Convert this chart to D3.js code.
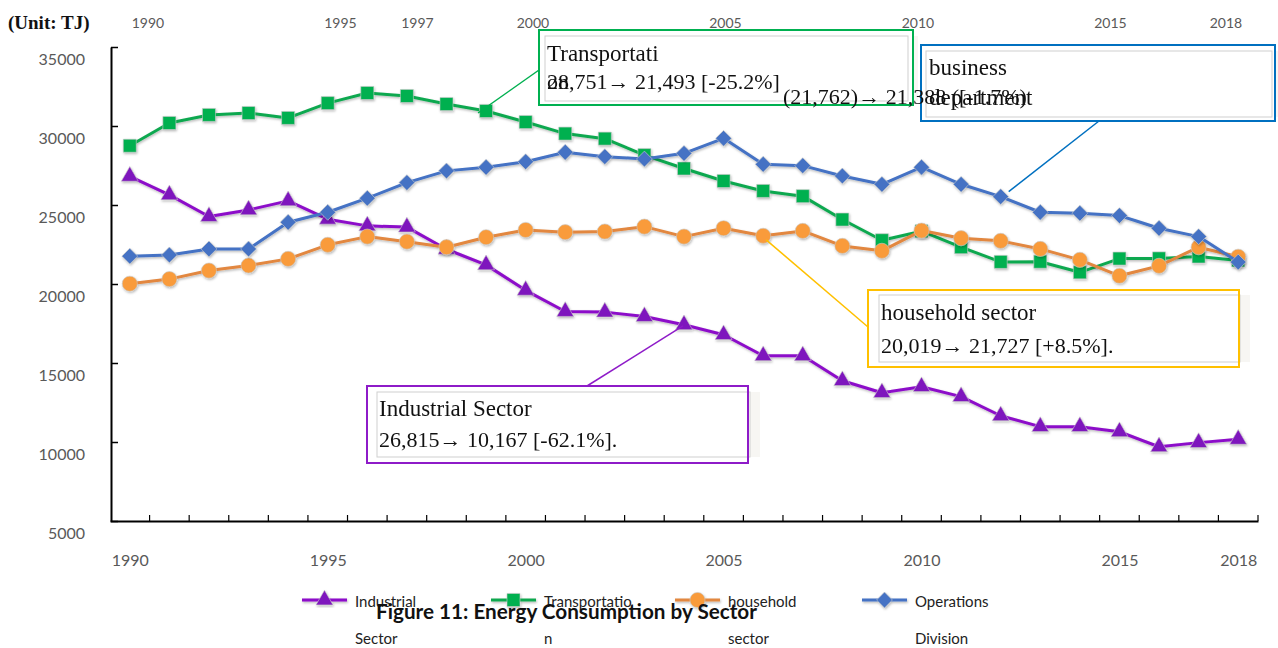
<!DOCTYPE html>
<html>
<head>
<meta charset="utf-8">
<script src="https://cdn.jsdelivr.net/npm/d3@7"></script>
<style>
  html, body { margin: 0; padding: 0; background: #fff; }
  svg { display: block; }
</style>
</head>
<body>
<svg id="chart" width="1278" height="648"></svg>
<script>
// Energy consumption by sector, 1990-2018 (TJ)
const years = [1990, 1991, 1992, 1993, 1994, 1995, 1996, 1997, 1998, 1999,
               2000, 2001, 2002, 2003, 2004, 2005, 2006, 2007, 2008, 2009,
               2010, 2011, 2012, 2013, 2014, 2015, 2016, 2017, 2018];

const industrial = [26815, 25640, 24270, 24690, 25260, 24100, 23680, 23600, 22200, 21210,
                    19600, 18260, 18220, 17940, 17420, 16790, 15460, 15460, 13880, 13120,
                    13500, 12870, 11660, 10970, 10970, 10650, 9700, 9960, 10167];

const transport = [28751, 30190, 30700, 30820, 30510, 31450, 32090, 31900, 31390, 30950,
                   30250, 29520, 29200, 28160, 27310, 26520, 25890, 25560, 24080, 22770,
                   23340, 22330, 21400, 21410, 20740, 21610, 21620, 21740, 21493];

const household = [20019, 20310, 20850, 21170, 21590, 22480, 23000, 22680, 22330, 22960,
                   23420, 23280, 23320, 23630, 23000, 23530, 23050, 23360, 22410, 22100,
                   23380, 22900, 22730, 22220, 21530, 20520, 21150, 22330, 21727];

const operations = [21762, 21840, 22220, 22220, 23910, 24540, 25430, 26420, 27160, 27390,
                    27740, 28340, 28060, 27910, 28270, 29220, 27580, 27490, 26840, 26310,
                    27390, 26310, 25530, 24540, 24480, 24330, 23530, 23000, 21388];

const yTicks = [5000, 10000, 15000, 20000, 25000, 30000, 35000];
const xLabelYears = [1990, 1995, 2000, 2005, 2010, 2015, 2018];
const topLabelYears = [1990, 1995, 1997, 2000, 2005, 2010, 2015, 2018];
const legendNames = [["Industrial", "Sector"], ["Transportatio", "n"], ["household", "sector"], ["Operations", "Division"]];

const W = 1278, H = 648;
const svg = d3.select("#chart");
svg.append("rect").attr("width", W).attr("height", H).attr("fill", "#fff");

const defs = svg.append("defs");
const sh = defs.append("filter").attr("id", "sh")
  .attr("x", "-20%").attr("y", "-20%").attr("width", "140%").attr("height", "140%");
sh.append("feDropShadow").attr("dx", 0.8).attr("dy", 1.4).attr("stdDeviation", 0.9)
  .attr("flood-color", "#000").attr("flood-opacity", 0.28);

// scales
const x = d3.scalePoint().domain(years).range([110, 1258]).padding(0.5);
const step = x.step();
const y = d3.scaleLinear().domain([5000, 35000]).range([521, 47]);
const xTop = d3.scaleLinear().domain([1990, 2018]).range([148, 1226]);

const SANS = "Lato, 'Open Sans', sans-serif";
const SERIF = "'Liberation Serif', 'DejaVu Serif', serif";

// y axis (ticks point inward)
const gy = svg.append("g").attr("transform", "translate(111,0)")
  .call(d3.axisLeft(y).tickValues(yTicks).tickSizeInner(-7).tickSizeOuter(0)
        .tickPadding(26).tickFormat(d3.format("d")));
gy.select(".domain").attr("stroke", "#000").attr("stroke-width", 2);
gy.selectAll(".tick line").attr("stroke", "#000").attr("stroke-width", 1.5);
gy.selectAll(".tick text").attr("y", 12.5).attr("fill", "#595959")
  .style("font-family", SANS).style("font-size", "16px");

// x axis: labels under selected years, tick marks between categories
const gx = svg.append("g").attr("transform", "translate(0,521)")
  .call(d3.axisBottom(x).tickValues(xLabelYears).tickSize(0).tickPadding(34));
gx.select(".domain").attr("stroke", "#000").attr("stroke-width", 2);
gx.selectAll(".tick text").attr("fill", "#595959")
  .style("font-family", SANS).style("font-size", "16px");
gx.selectAll("line.cat").data(years).join("line").attr("class", "cat")
  .attr("x1", d => x(d) + step / 2).attr("x2", d => x(d) + step / 2)
  .attr("y1", 0).attr("y2", -6).attr("stroke", "#000").attr("stroke-width", 1.2);

// year labels along the top
svg.append("g").selectAll("text").data(topLabelYears).join("text")
  .attr("x", d => xTop(d)).attr("y", 28).attr("text-anchor", "middle")
  .attr("fill", "#595959").style("font-family", SANS).style("font-size", "14px")
  .text(d => d);

// unit label
svg.append("text").attr("x", 8).attr("y", 29)
  .style("font-family", SERIF).style("font-size", "19px").style("font-weight", "bold")
  .attr("fill", "#111").text("(Unit: TJ)");

// series
const series = [
  { values: industrial, line: "#8C0BC9", fill: "#7E14BD", shape: "triangle" },
  { values: transport,  line: "#10A850", fill: "#00B050", shape: "square" },
  { values: household,  line: "#E2873F", fill: "#F99B3A", shape: "circle" },
  { values: operations, line: "#4472C4", fill: "#4472C4", shape: "diamond" }
];

function markerPath(shape) {
  if (shape === "triangle") return d3.symbol(d3.symbolTriangle, 125)();
  if (shape === "square") return d3.symbol(d3.symbolSquare, 169)();
  if (shape === "circle") return d3.symbol(d3.symbolCircle, 180)();
  return d3.symbol(d3.symbolSquare, 125)();
}
function markerTransform(shape, px, py) {
  return shape === "diamond" ? `translate(${px},${py}) rotate(45)` : `translate(${px},${py})`;
}

const line = d3.line().x(d => x(d.year)).y(d => y(d.v));

series.forEach(s => {
  const pts = years.map((yr, i) => ({ year: yr, v: s.values[i] }));
  const g = svg.append("g").attr("filter", "url(#sh)");
  g.append("path").datum(pts).attr("d", line).attr("fill", "none")
    .attr("stroke", s.line).attr("stroke-width", 3).attr("stroke-linejoin", "round");
  g.selectAll("path.m").data(pts).join("path").attr("class", "m")
    .attr("d", markerPath(s.shape))
    .attr("transform", d => markerTransform(s.shape, x(d.year), y(d.v)))
    .attr("fill", s.fill).attr("stroke", "#c9c9c9").attr("stroke-width", 0.6);
});

// callout boxes
const callouts = [
  { color: "#00B050", outer: [539, 30, 374, 75], inner: [545, 36, 363, 65],
    lines: [["Transportati", 547, 61, 23], ["on", 547, 89, 22], ["28,751\u2192 21,493 [-25.2%]", 547, 89, 22]],
    from: [539, 70], toYear: 1999, toVals: transport, off: [-8, 2] },
  { color: "#0070C0", outer: [921, 45, 354, 76], inner: [926, 51, 346, 66],
    lines: [["business", 929, 75, 23], ["department", 929, 105, 23]],
    from: [1099, 121], toYear: 2012, toVals: operations, off: [8, -5] },
  { color: "#FFC000", outer: [868, 290, 371, 77], inner: [879, 295, 361, 67],
    lines: [["household sector", 881, 320, 23], ["20,019\u2192 21,727 [+8.5%].", 881, 353, 22]],
    from: [868, 327], toYear: 2006, toVals: household, off: [3, 4] },
  { color: "#8E1BC8", outer: [367, 386, 381, 77], inner: [377, 392, 373, 65],
    lines: [["Industrial Sector", 379, 416, 23], ["26,815\u2192 10,167 [-62.1%].", 379, 447, 22]],
    from: [587, 386], toYear: 2004, toVals: industrial, off: [-1, 1] }
];

callouts.forEach(c => {
  const i = years.indexOf(c.toYear);
  svg.append("line")
    .attr("x1", c.from[0]).attr("y1", c.from[1])
    .attr("x2", x(c.toYear) + c.off[0]).attr("y2", y(c.toVals[i]) + c.off[1])
    .attr("stroke", c.color).attr("stroke-width", 1.5);
  const g = svg.append("g");
  g.append("rect").attr("x", c.inner[0] + c.inner[2] - 4).attr("y", c.inner[1])
    .attr("width", 14).attr("height", c.inner[3]).attr("fill", "#f7f6f3");
  g.append("rect").attr("x", c.outer[0]).attr("y", c.outer[1])
    .attr("width", c.outer[2]).attr("height", c.outer[3]).attr("fill", "#fff");
  g.append("rect").attr("x", c.inner[0]).attr("y", c.inner[1])
    .attr("width", c.inner[2]).attr("height", c.inner[3])
    .attr("fill", "#fff").attr("stroke", "#cfcfcf").attr("stroke-width", 1);
  g.append("rect").attr("x", c.outer[0]).attr("y", c.outer[1])
    .attr("width", c.outer[2]).attr("height", c.outer[3])
    .attr("fill", "none").attr("stroke", c.color).attr("stroke-width", 2);
  g.selectAll("text").data(c.lines).join("text")
    .attr("x", d => d[1]).attr("y", d => d[2]).attr("fill", "#111")
    .style("font-family", SERIF).style("font-size", d => d[3] + "px")
    .text(d => d[0]);
});

// stray value line that runs over the operations callout
svg.append("text").attr("x", 783).attr("y", 104).attr("fill", "#111")
  .style("font-family", SERIF).style("font-size", "22px")
  .text("(21,762)\u2192 21,388 ([-1.7%)");

// legend
const legend = svg.append("g");
const legendX = [302, 491, 675, 862];
series.forEach((s, k) => {
  const lx = legendX[k];
  const g = legend.append("g").attr("filter", "url(#sh)");
  g.append("line").attr("x1", lx).attr("x2", lx + 45).attr("y1", 600).attr("y2", 600)
    .attr("stroke", s.line).attr("stroke-width", 3);
  g.append("path").attr("d", markerPath(s.shape))
    .attr("transform", markerTransform(s.shape, lx + 22.5, 600))
    .attr("fill", s.fill).attr("stroke", "#c9c9c9").attr("stroke-width", 0.6);
  legend.append("text").attr("x", lx + 53).attr("y", 607).attr("fill", "#222")
    .style("font-family", SANS).style("font-size", "15px").text(legendNames[k][0]);
  legend.append("text").attr("x", lx + 53).attr("y", 644).attr("fill", "#222")
    .style("font-family", SANS).style("font-size", "15px").text(legendNames[k][1]);
});

// caption
svg.append("text").attr("x", 376).attr("y", 619)
  .attr("textLength", 381).attr("lengthAdjust", "spacingAndGlyphs")
  .attr("fill", "#111").style("font-family", SANS).style("font-size", "21px")
  .style("font-weight", "bold").text("Figure 11: Energy Consumption by Sector");
</script>
</body>
</html>
